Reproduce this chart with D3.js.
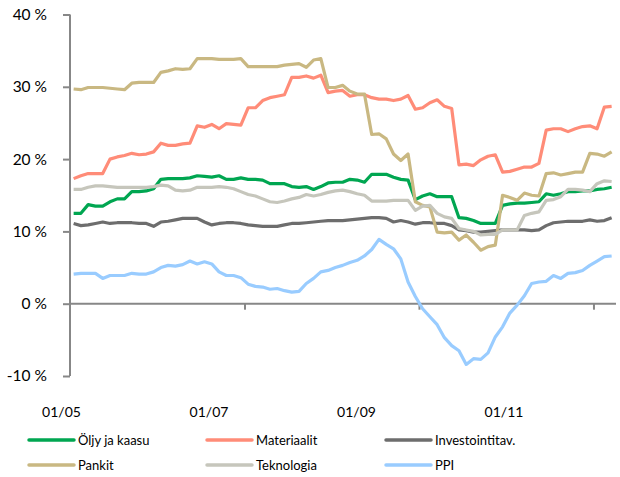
<!DOCTYPE html>
<html><head><meta charset="utf-8">
<script src="https://cdn.jsdelivr.net/npm/d3@7"></script>
<style>body{margin:0;background:#fff}svg{display:block}</style>
</head><body>
<script>
const seriesNames = ["Öljy ja kaasu","Materiaalit","Investointitav.","Pankit","Teknologia","PPI"];
const seriesColors = ["#00A651","#FF8C78","#6D6D6D","#C9B882","#C6C6BC","#99CCFF"];
const yTicks = [-10,0,10,20,30,40];
const xTickLabels = ["01/05","01/07","01/09","01/11"];
const xTickMonths = [0,24,48,72];

const oljy = [12.5,12.5,13.7,13.5,13.5,14.1,14.5,14.5,15.5,15.5,15.6,15.9,17.2,17.3,17.3,17.3,17.4,17.7,17.6,17.5,17.7,17.2,17.2,17.4,17.2,17.2,17.1,16.6,16.6,16.6,16.2,16.1,16.2,15.8,16.2,16.7,16.8,16.8,17.2,17.1,16.8,17.9,17.9,17.9,17.5,17.2,17.1,14.4,14.9,15.2,14.8,14.8,14.8,11.9,11.8,11.5,11.1,11.1,11.1,13.6,13.8,13.9,13.9,14.0,14.1,15.2,15.0,15.2,15.5,15.5,15.6,15.6,15.8,15.9,16.1];
const materiaalit = [17.3,17.7,18.0,18.0,18.0,20.0,20.3,20.5,20.8,20.6,20.7,21.0,22.2,21.9,21.9,22.1,22.2,24.6,24.4,24.8,24.2,24.9,24.8,24.7,27.1,27.1,28.1,28.5,28.7,28.9,31.3,31.3,31.5,31.2,31.6,29.2,29.4,29.5,28.7,28.9,28.9,28.5,28.3,28.3,28.1,28.3,28.8,26.9,27.1,27.8,28.2,27.3,27.0,19.2,19.3,19.1,19.9,20.4,20.6,18.2,18.3,18.6,18.9,18.9,19.4,24.0,24.2,24.2,23.8,24.2,24.5,24.6,24.2,27.2,27.3];
const investointi = [11.1,10.8,10.9,11.1,11.3,11.1,11.2,11.2,11.2,11.1,11.1,10.7,11.3,11.4,11.6,11.8,11.8,11.8,11.3,10.9,11.1,11.2,11.2,11.1,10.9,10.8,10.7,10.7,10.7,10.9,11.1,11.1,11.2,11.3,11.4,11.5,11.5,11.5,11.6,11.7,11.8,11.9,11.9,11.8,11.3,11.5,11.3,11.0,11.2,11.2,11.1,11.1,10.8,10.2,10.1,9.9,9.9,10.0,10.1,10.2,10.2,10.2,10.2,10.1,10.2,10.8,11.2,11.3,11.4,11.4,11.4,11.6,11.4,11.5,11.9];
const pankit = [29.7,29.6,29.9,29.9,29.9,29.8,29.7,29.6,30.5,30.6,30.6,30.6,32.0,32.2,32.5,32.4,32.5,33.9,33.9,33.9,33.8,33.8,33.8,33.9,32.8,32.8,32.8,32.8,32.8,33.0,33.1,33.2,32.7,33.7,33.9,29.9,29.9,30.2,29.4,29.0,29.0,23.4,23.5,22.8,20.7,19.8,20.7,14.1,13.6,13.4,9.9,9.8,9.9,8.8,9.5,8.5,7.4,7.9,8.1,15.0,14.7,14.3,15.3,15.0,14.9,18.0,18.1,17.8,18.0,18.2,18.2,20.8,20.7,20.4,21.0];
const teknologia = [15.8,15.8,16.1,16.3,16.3,16.2,16.1,16.1,16.1,16.1,16.1,16.2,16.4,16.3,15.7,15.6,15.7,16.1,16.1,16.1,16.2,16.1,15.9,15.5,15.1,14.9,14.5,14.1,14.0,14.2,14.5,14.7,15.1,14.9,15.1,15.4,15.6,15.7,15.5,15.2,15.0,14.2,14.2,14.2,14.3,14.3,14.3,12.9,13.5,13.6,12.5,12.0,11.8,10.4,10.2,10.0,9.5,9.6,9.6,10.2,10.2,10.2,12.2,12.5,12.7,14.3,14.4,14.8,15.8,15.8,15.7,15.5,16.6,17.0,16.9];
const ppi = [4.1,4.2,4.2,4.2,3.5,3.9,3.9,3.9,4.2,4.1,4.1,4.4,5.0,5.3,5.2,5.4,5.9,5.5,5.8,5.5,4.4,3.9,3.9,3.6,2.7,2.4,2.3,2.0,2.1,1.8,1.6,1.7,2.8,3.5,4.4,4.6,5.0,5.3,5.7,6.0,6.6,7.5,8.9,8.2,7.6,6.2,3.0,1.0,-0.7,-1.8,-2.9,-4.7,-5.8,-6.5,-8.4,-7.6,-7.7,-6.8,-4.6,-3.2,-1.3,-0.2,1.1,2.8,3.0,3.1,3.9,3.5,4.2,4.3,4.6,5.3,5.9,6.5,6.6];

const seriesValues = [oljy, materiaalit, investointi, pankit, teknologia, ppi];

const W = 620, H = 477;
const svg = d3.select("body").append("svg").attr("width", W).attr("height", H);
const font = "Lato, 'Open Sans', sans-serif";

// month index scale: tick at month start, points at mid-month
const x = d3.scaleLinear().domain([0, 75.1]).range([70, 616]);
const y = d3.scaleLinear().domain([-10, 40]).range([376, 14.5]);
const axisColor = "#878787";

// y axis
const yAxis = svg.append("g").attr("transform", "translate(70,0)")
  .call(d3.axisLeft(y).tickValues(yTicks).tickSize(7).tickFormat(d => d + " %"));
yAxis.select(".domain").attr("stroke", axisColor).attr("stroke-width", 2).attr("d", `M0,${y(40)}V${y(-10)}`);
yAxis.selectAll(".tick line").attr("stroke", axisColor).attr("stroke-width", 2);
yAxis.selectAll(".tick text").attr("x", -23).attr("font-family", font).attr("font-size", 15.5).attr("fill", "#000");

// x axis at 0 %
const xAxis = svg.append("g").attr("transform", `translate(0,${y(0)})`)
  .call(d3.axisBottom(x).tickValues(xTickMonths.slice(1)).tickSize(6).tickFormat(""));
xAxis.select(".domain").attr("stroke", axisColor).attr("stroke-width", 2).attr("d", `M${x(0)},0H${x(75.1)}`);
xAxis.selectAll(".tick line").attr("stroke", axisColor).attr("stroke-width", 2);

// x labels (placed in their own band as in the reference)
const xl = d3.scalePoint().domain(xTickLabels).range([61.5, 504]);
svg.append("g").selectAll("text").data(xTickLabels).join("text")
  .attr("x", d => xl(d)).attr("y", 412).attr("dy", "0.35em")
  .attr("text-anchor", "middle").attr("font-family", font).attr("font-size", 14).attr("fill", "#000")
  .text(d => d);

// lines
const line = d3.line().x((d, i) => x(i + 0.5)).y(d => y(d));
svg.append("g").selectAll("path").data(seriesValues).join("path")
  .attr("d", line).attr("fill", "none")
  .attr("stroke", (d, i) => seriesColors[i]).attr("stroke-width", 3.2)
  .attr("stroke-linejoin", "round");

// legend
const legX = [29, 207, 386];
const legY = [440, 465];
const leg = svg.append("g").selectAll("g").data(seriesNames).join("g")
  .attr("transform", (d, i) => `translate(${legX[i % 3]},${legY[Math.floor(i / 3)]})`);
leg.append("line").attr("x1", 0).attr("x2", 45).attr("y1", 0).attr("y2", 0)
  .attr("stroke", (d, i) => seriesColors[i]).attr("stroke-width", 3.5).attr("stroke-linecap", "round");
leg.append("text").attr("x", 49).attr("y", 0).attr("dy", "0.35em")
  .attr("font-family", font).attr("font-size", 13).attr("fill", "#000").text(d => d);
</script>
</body></html>
